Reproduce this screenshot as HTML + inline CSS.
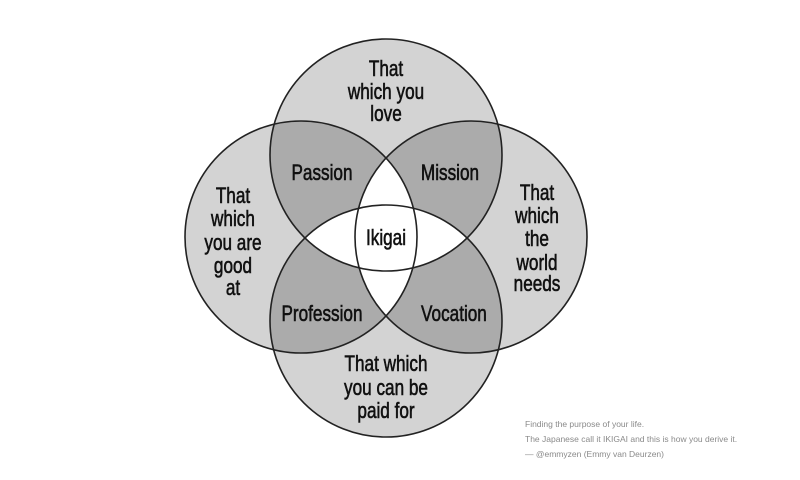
<!DOCTYPE html>
<html><head><meta charset="utf-8"><style>
html,body{margin:0;padding:0;background:#fff;}
svg{display:block;}
</style></head><body>
<svg width="800" height="480" viewBox="0 0 800 480" xmlns="http://www.w3.org/2000/svg">
<defs>
<clipPath id="cT"><circle cx="386" cy="155" r="116"/></clipPath>
<clipPath id="cB"><circle cx="386" cy="321" r="116"/></clipPath>
<clipPath id="cL"><circle cx="301" cy="237" r="116"/></clipPath>
<clipPath id="cR"><circle cx="471" cy="237" r="116"/></clipPath>
</defs>
<g fill="#d3d3d3">
<circle cx="386" cy="155" r="116"/><circle cx="386" cy="321" r="116"/>
<circle cx="301" cy="237" r="116"/><circle cx="471" cy="237" r="116"/>
</g>
<g fill="#ababab">
<g clip-path="url(#cT)"><circle cx="301" cy="237" r="116"/><circle cx="471" cy="237" r="116"/></g>
<g clip-path="url(#cB)"><circle cx="301" cy="237" r="116"/><circle cx="471" cy="237" r="116"/></g>
</g>
<g fill="#fff">
<g clip-path="url(#cT)"><circle cx="386" cy="321" r="116"/></g>
<g clip-path="url(#cL)"><circle cx="471" cy="237" r="116"/></g>
</g>
<g fill="none" stroke="#222" stroke-width="1.6">
<circle cx="386" cy="155" r="116"/><circle cx="386" cy="321" r="116"/>
<circle cx="301" cy="237" r="116"/><circle cx="471" cy="237" r="116"/>
</g>
<g transform="scale(0.78,1)" font-family="Liberation Sans, sans-serif" font-size="22" fill="#111" stroke="#111" stroke-width="0.6" text-anchor="middle">
<text x="494.9" y="76">That</text>
<text x="494.9" y="99">which you</text>
<text x="494.9" y="121">love</text>
<text x="298.7" y="203">That</text>
<text x="298.7" y="226">which</text>
<text x="298.7" y="250">you are</text>
<text x="298.7" y="273">good</text>
<text x="298.7" y="295">at</text>
<text x="688.5" y="200">That</text>
<text x="688.5" y="223">which</text>
<text x="688.5" y="246">the</text>
<text x="688.5" y="270">world</text>
<text x="688.5" y="291">needs</text>
<text x="494.9" y="371">That which</text>
<text x="494.9" y="395">you can be</text>
<text x="494.9" y="418">paid for</text>
<text x="412.8" y="180">Passion</text>
<text x="576.9" y="180">Mission</text>
<text x="412.8" y="321">Profession</text>
<text x="582" y="321">Vocation</text>
<text x="494.9" y="245">Ikigai</text>
</g>
<g font-family="Liberation Sans, sans-serif" font-size="8.5" fill="#8a8a8a">
<text x="525" y="427">Finding the purpose of your life.</text>
<text x="525" y="442">The Japanese call it IKIGAI and this is how you derive it.</text>
<text x="525" y="457">— @emmyzen (Emmy van Deurzen)</text>
</g>
</svg>
</body></html>
